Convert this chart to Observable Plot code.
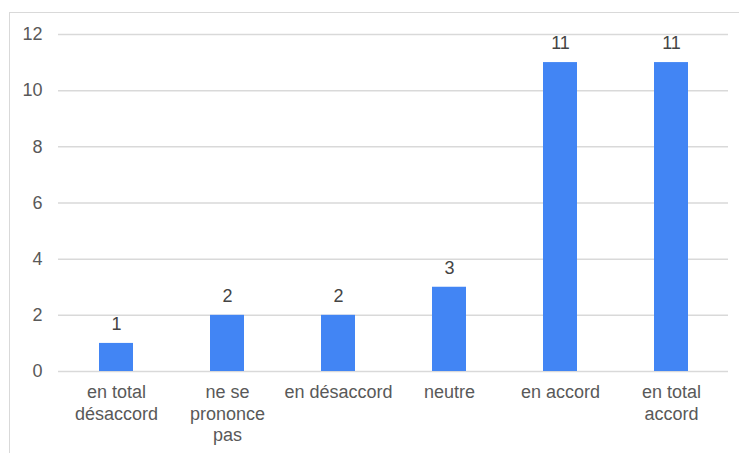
<!DOCTYPE html>
<html>
<head>
<meta charset="utf-8">
<script src="https://cdn.jsdelivr.net/npm/d3@7"></script>
<script src="https://cdn.jsdelivr.net/npm/@observablehq/plot@0.6"></script>
<style>
  html, body { margin: 0; padding: 0; background: #fff; overflow: hidden; }
  #wrap { position: relative; width: 739px; height: 453px; }
  #border { position: absolute; left: 9px; top: 12px; width: 800px; height: 600px; border: 1.5px solid #d9d9d9; box-sizing: border-box; }
  #chart { position: absolute; left: 0; top: 0; }
</style>
</head>
<body>
<div id="wrap"><div id="border"></div><div id="chart"></div></div>
<script>
const categories = ["en total\ndésaccord", "ne se\nprononce\npas", "en désaccord", "neutre", "en accord", "en total\naccord"];
const values = [1, 2, 2, 3, 11, 11];
const yTicks = [0, 2, 4, 6, 8, 10, 12];

const data = categories.map((c, i) => ({category: c, value: values[i]}));

const chart = Plot.plot({
  width: 739,
  height: 453,
  marginLeft: 58,
  marginRight: 11,
  marginTop: 34,
  marginBottom: 82,
  style: {fontFamily: "'Liberation Sans', Arial, sans-serif", fontSize: "18px", color: "#595959", background: "transparent"},
  x: {domain: categories, paddingInner: 0.695, paddingOuter: 0.3475, align: 0.5, label: null},
  y: {domain: [0, 12], ticks: yTicks, label: null},
  marks: [
    Plot.gridY(yTicks, {stroke: "#d9d9d9", strokeOpacity: 1, strokeWidth: 1.5}),
    Plot.axisY(yTicks, {tickSize: 0, tickPadding: 16, fontSize: 18, fill: "#595959", label: null}),
    Plot.axisX({tickSize: 0, tickPadding: 12, fontSize: 18, lineHeight: 1.17, fill: "#595959", label: null}),
    Plot.barY(data, {x: "category", y: "value", fill: "#4285f4"}),
    Plot.text(data, {x: "category", y: "value", text: d => String(d.value), dy: -19, fontSize: 18, fill: "#444"})
  ]
});
document.getElementById("chart").appendChild(chart);
</script>
</body>
</html>
